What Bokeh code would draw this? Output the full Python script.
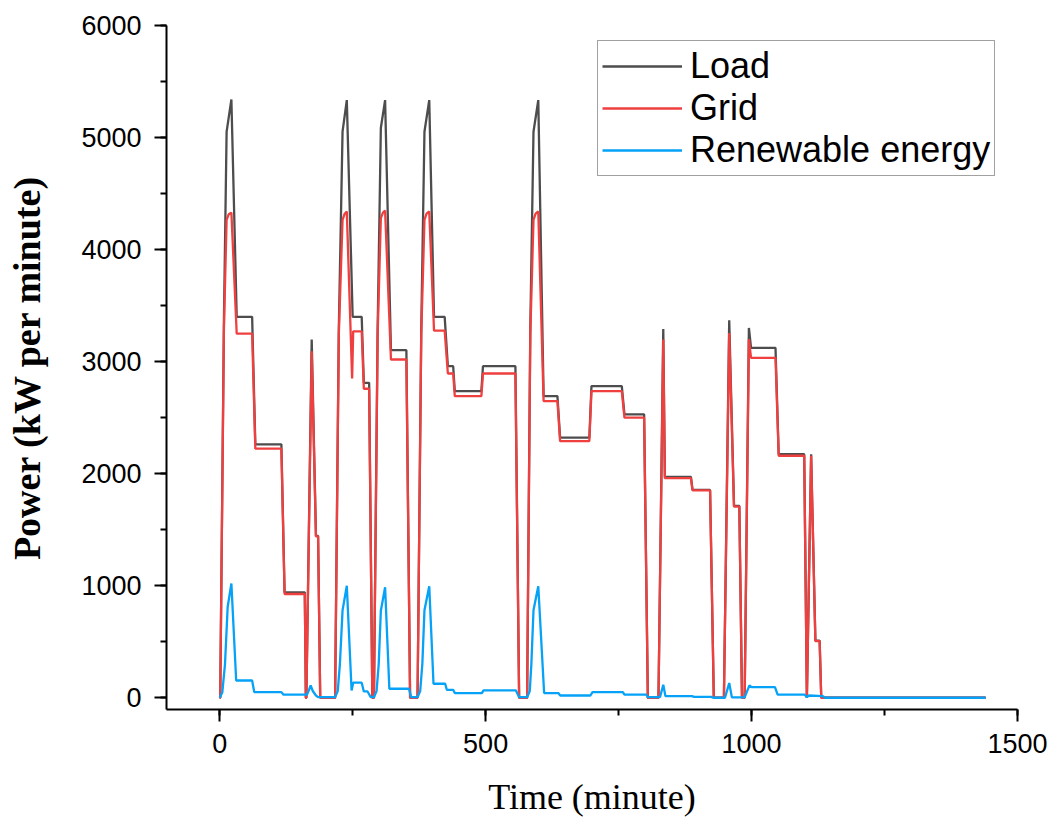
from bokeh.plotting import figure
from bokeh.models import SingleIntervalTicker, Range1d, Legend, LegendItem
from bokeh.embed import file_html
from bokeh.resources import INLINE

# ---- data ----
load_t = [0, 1, 8, 13, 22, 32, 61, 67, 116, 122, 160, 162, 163, 173, 181, 185, 189,
          217, 224, 231, 239, 250, 267, 271, 281, 287, 290, 297, 303, 311, 322, 351, 358,
          372, 379, 385, 394, 403, 423, 429, 439, 442, 492, 495, 556, 563,
          578, 584, 590, 599, 609, 635, 640, 695, 699, 756, 761, 798, 805,
          825, 834, 837, 886, 889, 922, 929, 948, 958, 967, 977, 982, 987, 995, 999,
          1045, 1051, 1099, 1104, 1112, 1120, 1128, 1131, 1440]
load_kw = [0, 0, 3375, 5050, 5340, 3400, 3400, 2262, 2262, 941, 941, 0, 0, 3197, 1445, 1445, 0,
           0, 3300, 5052, 5334, 3400, 3400, 2811, 2811, 0, 0, 3300, 5085, 5334, 3102, 3102, 0,
           0, 3300, 5052, 5334, 3400, 3400, 2959, 2959, 2737, 2737, 2959, 2959, 0,
           0, 3300, 5052, 5334, 2692, 2692, 2321, 2321, 2781, 2781, 2529, 2529, 0,
           0, 3292, 1971, 1971, 1855, 1855, 0, 0, 3369, 1713, 1713, 0, 0, 3301, 3123,
           3123, 2173, 2173, 0, 2173, 510, 510, 0, 0]

grid_t = [0, 1, 8, 13, 17, 22, 32, 61, 67, 116, 122, 160, 162, 163, 173, 181, 185, 189,
          217, 224, 231, 235, 239, 249, 251, 267, 271, 281, 287, 290, 297, 303, 307, 311, 322, 351, 358,
          372, 379, 385, 389, 394, 403, 423, 429, 439, 442, 492, 495, 556, 563,
          578, 584, 590, 594, 599, 609, 635, 640, 695, 699, 756, 761, 798, 805,
          825, 834, 837, 886, 889, 922, 929, 948, 958, 967, 977, 982, 987, 995, 999,
          1045, 1051, 1099, 1104, 1112, 1120, 1128, 1131, 1440]
grid_kw = [0, 0, 3300, 4265, 4315, 4330, 3250, 3250, 2223, 2223, 926, 926, 0, 0, 3093, 1440, 1440, 0,
           0, 3250, 4265, 4320, 4340, 2850, 3270, 3270, 2758, 2758, 0, 0, 3250, 4280, 4330, 4348, 3019, 3019, 0,
           0, 3250, 4265, 4320, 4340, 3277, 3277, 2894, 2894, 2692, 2692, 2894, 2894, 0,
           0, 3250, 4265, 4320, 4340, 2648, 2648, 2291, 2291, 2737, 2737, 2500, 2500, 0,
           0, 3197, 1960, 1960, 1850, 1850, 0, 0, 3256, 1705, 1705, 0, 0, 3200, 3034,
           3034, 2160, 2160, 0, 2160, 505, 505, 0, 0]

ren_t = [0, 5, 10, 15, 22, 31, 61, 65, 116, 120, 164, 168, 171, 175, 181, 185,
         217, 222, 226, 231, 239, 248, 251, 267, 271, 278, 284,
         290, 295, 299, 303, 311, 319, 356, 360,
         372, 377, 381, 385, 394, 402, 424, 427, 439, 442, 493, 496, 557, 563,
         578, 583, 586, 590, 599, 610, 637, 640, 697, 701, 758, 761, 802, 805,
         828, 834, 838, 888, 892, 924, 928, 950, 958, 963, 987, 996, 1000, 1044, 1049,
         1100, 1104, 1108, 1134, 1138, 1440]
ren_kw = [0, 50, 300, 810, 1020, 154, 154, 50, 50, 27, 27, 70, 110, 60, 20, 6,
          6, 60, 300, 780, 1000, 65, 134, 134, 56, 56, 5,
          5, 60, 300, 777, 986, 80, 80, 5,
          5, 60, 300, 780, 995, 125, 125, 71, 71, 42, 42, 65, 65, 5,
          5, 60, 300, 780, 995, 42, 42, 20, 20, 50, 50, 27, 27, 6,
          6, 116, 15, 15, 8, 8, 0, 0, 131, 3, 3, 110, 95, 95, 27,
          27, 5, 20, 15, 0, 0]

series_names = ["Load", "Grid", "Renewable energy"]
series_colors = ["#4d4d4d", "#ef3f3f", "#05a2f7"]

x_label = "Time (minute)"
y_label = "Power (kW per minute)"

# ---- figure ----
p = figure(width=1052, height=819, output_backend="svg", toolbar_location=None,
           x_range=Range1d(-100, 1500), y_range=Range1d(-105, 6000),
           min_border_left=166, min_border_right=35, min_border_top=25,
           min_border_bottom=108)
p.outline_line_color = None
p.xgrid.visible = False
p.ygrid.visible = False
p.background_fill_color = "white"
p.border_fill_color = "white"

r_load = p.line(load_t, load_kw, line_color=series_colors[0], line_width=2.3)
r_grid = p.line(grid_t, grid_kw, line_color=series_colors[1], line_width=2.3)
r_ren = p.line(ren_t, ren_kw, line_color=series_colors[2], line_width=2.3)

p.xaxis.ticker = SingleIntervalTicker(interval=500, num_minor_ticks=2)
p.yaxis.ticker = SingleIntervalTicker(interval=1000, num_minor_ticks=2)

for ax in (p.xaxis[0], p.yaxis[0]):
    ax.axis_line_width = 2
    ax.axis_line_color = "black"
    ax.major_tick_line_width = 2
    ax.minor_tick_line_width = 2
    ax.major_tick_line_color = "black"
    ax.minor_tick_line_color = "black"
    ax.major_tick_out = 12
    ax.major_tick_in = 0
    ax.minor_tick_out = 6
    ax.minor_tick_in = 0
    ax.major_label_text_font = "Liberation Sans"
    ax.major_label_text_font_size = "27px"
    ax.major_label_text_color = "black"
    ax.axis_label_text_font = "Liberation Serif"
    ax.axis_label_text_color = "black"

p.xaxis.axis_label = x_label
p.xaxis.axis_label_text_font_size = "36px"
p.xaxis.axis_label_text_font_style = "normal"
p.xaxis.major_label_standoff = 12
p.xaxis.axis_label_standoff = 21

p.yaxis.axis_label = y_label
p.yaxis.axis_label_text_font_size = "38px"
p.yaxis.axis_label_text_font_style = "bold"
p.yaxis.major_label_standoff = 13
p.yaxis.axis_label_standoff = 30

legend = Legend(items=[LegendItem(label=series_names[0], renderers=[r_load]),
                       LegendItem(label=series_names[1], renderers=[r_grid]),
                       LegendItem(label=series_names[2], renderers=[r_ren])],
                location=(431, 533))
legend.label_text_font = "Liberation Sans"
legend.label_text_font_size = "36px"
legend.label_text_color = "black"
legend.glyph_width = 80
legend.glyph_height = 42
legend.label_height = 42
legend.label_standoff = 8
legend.spacing = 0
legend.padding = 4
legend.margin = 0
legend.border_line_color = "#444444"
legend.border_line_width = 1
legend.background_fill_alpha = 1
p.add_layout(legend, "center")

open("out.html", "w").write(file_html(p, INLINE))
